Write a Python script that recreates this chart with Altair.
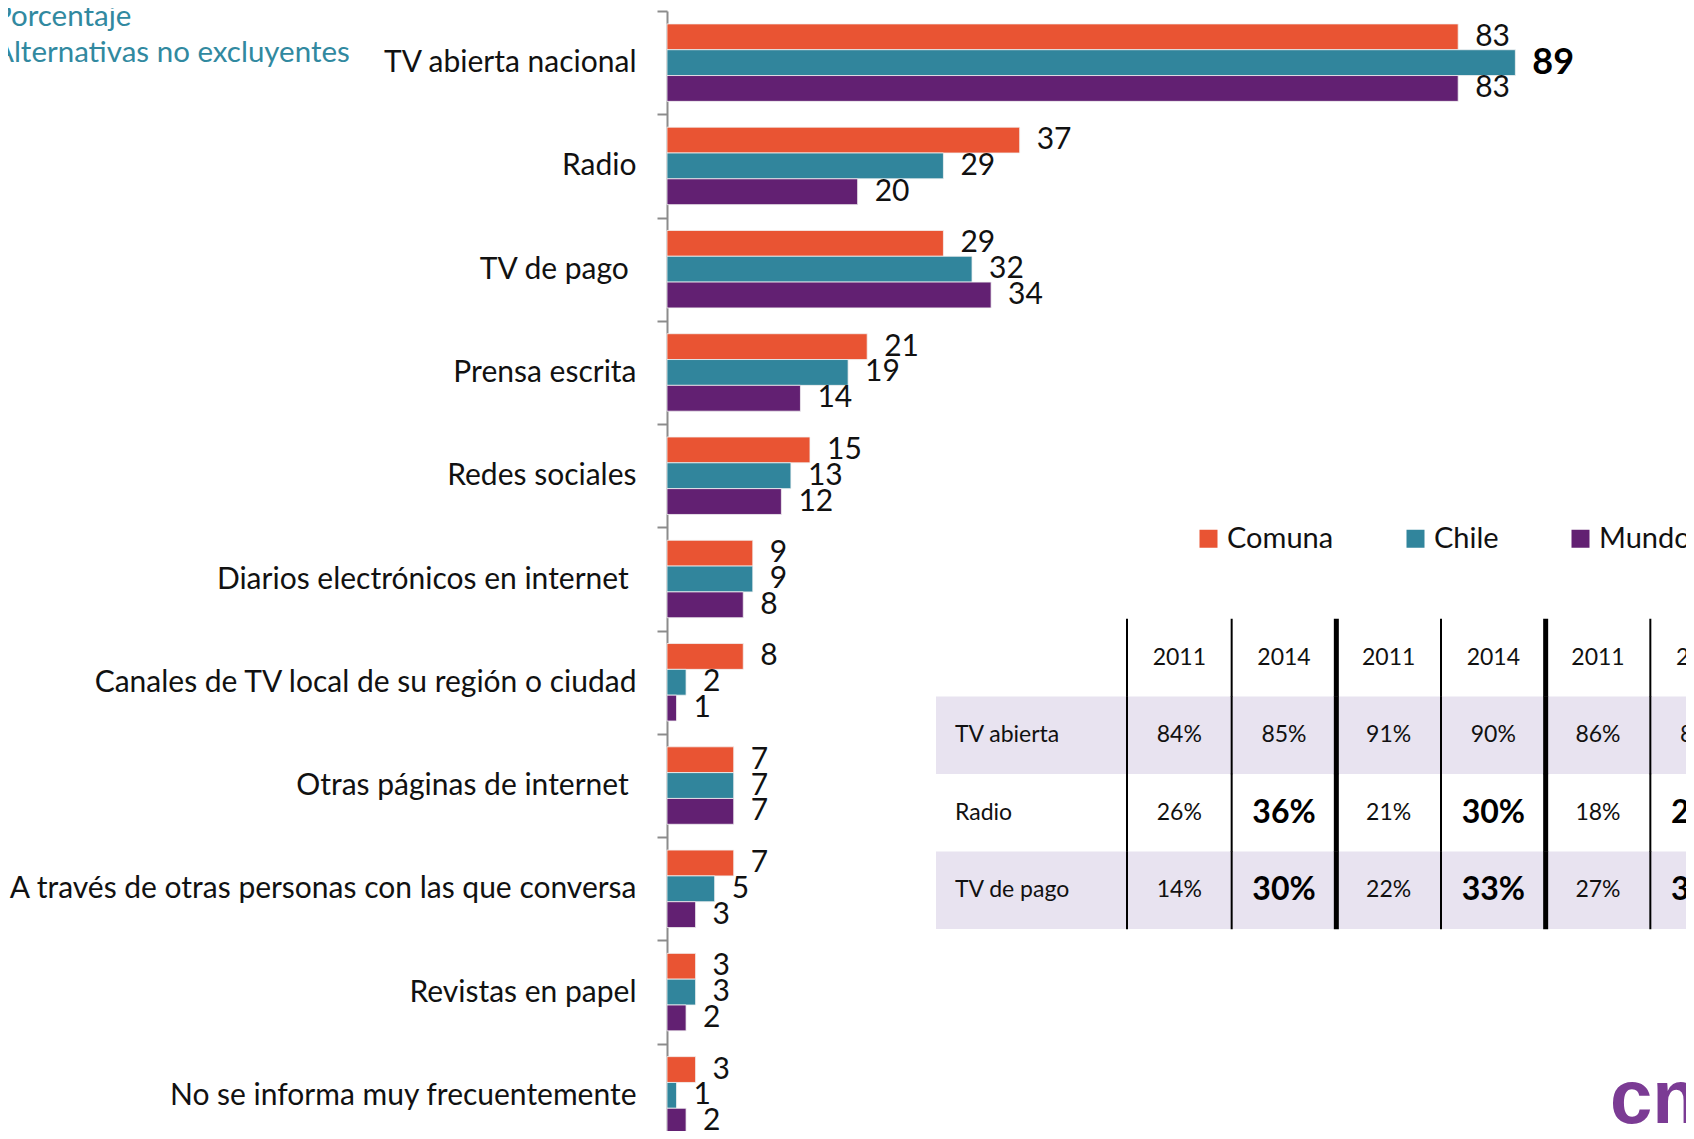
import altair as alt
import pandas as pd

FONT = "Lato"

# ---------------- data ----------------
categories = [
    "TV abierta nacional",
    "Radio",
    "TV de pago\u00a0\u200b",
    "Prensa escrita",
    "Redes sociales",
    "Diarios electrónicos en internet\u00a0\u200b",
    "Canales de TV local de su región o ciudad",
    "Otras páginas de internet\u00a0\u200b",
    "A través de otras personas con las que conversa",
    "Revistas en papel",
    "No se informa muy frecuentemente",
]
series = ["Comuna", "Chile", "Mundo"]
comuna = [83, 37, 29, 21, 15, 9, 8, 7, 7, 3, 3]
chile = [89, 29, 32, 19, 13, 9, 2, 7, 5, 3, 1]
mundo = [83, 20, 34, 14, 12, 8, 1, 7, 3, 2, 2]
colors = ["#E95433", "#31859C", "#622072"]

title_lines = ["Porcentaje", "Alternativas no excluyentes"]

table_row_labels = ["TV abierta", "Radio", "TV de pago"]
table_col_keys = ["C2011", "C2014", "H2011", "H2014", "M2011", "M2014"]
table_years = ["2011", "2014", "2011", "2014", "2011", "2014"]
tv_abierta_row = ["84%", "85%", "91%", "90%", "86%", "83%"]
radio_row = ["26%", "36%", "21%", "30%", "18%", "21%"]
tv_pago_row = ["14%", "30%", "22%", "33%", "27%", "35%"]
bold_cells = [("Radio", "C2014"), ("Radio", "H2014"), ("Radio", "M2014"),
              ("TV de pago", "C2014"), ("TV de pago", "H2014"), ("TV de pago", "M2014")]
thick_cols = ["H2011", "M2011"]

logo_text = ["cn"]

# ---------------- frames ----------------
rows = []
for cat, a, b, c in zip(categories, comuna, chile, mundo):
    for s, v in zip(series, (a, b, c)):
        rows.append({"cat": cat, "serie": s, "val": v})
df = pd.DataFrame(rows)
df["bold"] = df["val"] == df["val"].max()

cells = []
for k, yv in zip(table_col_keys, table_years):
    cells.append({"row": "header", "col": k, "text": yv, "bold": False})
for lab, vals in zip(table_row_labels, [tv_abierta_row, radio_row, tv_pago_row]):
    for k, v in zip(table_col_keys, vals):
        cells.append({"row": lab, "col": k, "text": v, "bold": (lab, k) in bold_cells})
cells_df = pd.DataFrame(cells)

row_domain = ["header"] + table_row_labels
lines_df = pd.DataFrame([{"row": r, "col": k, "thick": k in thick_cols}
                         for r in row_domain for k in table_col_keys])
shade_df = pd.DataFrame({"row": [r for i, r in enumerate(table_row_labels) if i % 2 == 0]})
rowlab_df = pd.DataFrame({"row": table_row_labels})
title_df = pd.DataFrame({"t": title_lines, "i": list(range(len(title_lines)))})
logo_df = pd.DataFrame({"t": logo_text})

# ---------------- bars ----------------
y_enc = alt.Y(
    "cat:N", sort=categories,
    scale=alt.Scale(domain=categories, range=[0, 1136], paddingInner=0, paddingOuter=0),
    axis=alt.Axis(title=None, tickBand="extent", domainColor="#8c8c8c", domainWidth=2,
                  tickColor="#8c8c8c", tickWidth=2, tickSize=10, labelPadding=21,
                  labelFont=FONT, labelFontSize=30, labelColor="#111111", labelLimit=0),
)
yoff = alt.YOffset("serie:N", sort=series,
                   scale=alt.Scale(domain=series, paddingInner=0, paddingOuter=0.5))
x_enc = alt.X("val:Q", scale=alt.Scale(domain=[0, 106.9], nice=False, zero=True), axis=None)

base = alt.Chart(df)
bars = base.mark_bar(stroke="#f2f2f2", strokeWidth=0.8).encode(
    x=x_enc, y=y_enc, yOffset=yoff,
    color=alt.Color("serie:N", sort=series,
                    scale=alt.Scale(domain=series, range=colors),
                    legend=alt.Legend(title=None, orient="none", legendX=527, legendY=513,
                                      direction="horizontal", symbolType="square",
                                      symbolSize=324, symbolStrokeWidth=0,
                                      labelFont=FONT, labelFontSize=29, labelColor="#111111",
                                      columnPadding=67, labelOffset=4, padding=0)),
)
labels = base.transform_filter("!datum.bold").mark_text(
    align="left", baseline="middle", dx=17, font=FONT, fontSize=30, color="#111111"
).encode(x=x_enc, y=y_enc, yOffset=yoff, text="val:Q")
bold_labels = base.transform_filter("datum.bold").mark_text(
    align="left", baseline="middle", dx=17, font=FONT, fontSize=36, fontWeight="bold", color="#000000"
).encode(x=x_enc, y=y_enc, yOffset=yoff, text="val:Q")

bars_layer = alt.layer(bars, labels, bold_labels)

# ---------------- table ----------------
tx_scale = alt.Scale(domain=table_col_keys, range=[460, 1088], paddingInner=0, paddingOuter=0)
ty_scale = alt.Scale(domain=row_domain, range=[608, 918], paddingInner=0, paddingOuter=0)
tx = alt.X("col:N", sort=table_col_keys, scale=tx_scale, axis=None)
tx0 = alt.X("col:N", sort=table_col_keys, scale=tx_scale, axis=None, bandPosition=0)
ty = alt.Y("row:N", sort=row_domain, scale=ty_scale, axis=None)

shade = alt.Chart(shade_df).mark_rect(color="#E8E3F0").encode(
    y=ty, x=alt.value(269), x2=alt.value(1100))
thin = alt.Chart(lines_df).transform_filter("!datum.thick").mark_tick(
    orient="vertical", thickness=2, size=78, color="#000000", opacity=1).encode(x=tx0, y=ty)
thick = alt.Chart(lines_df).transform_filter("datum.thick").mark_tick(
    orient="vertical", thickness=5, size=78, color="#000000", opacity=1).encode(x=tx0, y=ty)
cell_text = alt.Chart(cells_df).transform_filter("!datum.bold").mark_text(
    font=FONT, fontSize=23, color="#111111", baseline="middle").encode(x=tx, y=ty, text="text:N")
cell_bold = alt.Chart(cells_df).transform_filter("datum.bold").mark_text(
    font=FONT, fontSize=32, fontWeight="bold", color="#000000", baseline="middle").encode(
    x=tx, y=ty, text="text:N")
row_labels = alt.Chart(rowlab_df).mark_text(
    font=FONT, fontSize=23, color="#111111", align="left", baseline="middle").encode(
    x=alt.value(288), y=ty, text="row:N")

table_layer = alt.layer(shade, thin, thick, cell_text, cell_bold, row_labels)

# ---------------- annotations ----------------
title_txt = alt.Chart(title_df).mark_text(
    font=FONT, fontSize=29.5, color="#3189A0", align="left", baseline="middle").encode(
    x=alt.value(-673),
    y=alt.Y("i:O", scale=alt.Scale(type="point", range=[6, 42], padding=0), axis=None),
    text="t:N")
logo = alt.Chart(logo_df).mark_text(
    font="Liberation Sans", fontSize=76, fontWeight="bold", color="#7B3B94",
    align="left", baseline="alphabetic").encode(x=alt.value(943), y=alt.value(1112), text="t:N")
annot_layer = alt.layer(title_txt, logo)

chart = alt.layer(bars_layer, table_layer, annot_layer).resolve_scale(
    x="independent", y="independent"
).properties(
    width=1019, height=1120,
    padding={"left": 659, "top": 3, "right": 0, "bottom": 0},
    autosize=alt.AutoSizeParams(type="none"),
).configure_view(stroke=None)

chart.save("out.html", embed_options={"renderer": "svg", "actions": False})
